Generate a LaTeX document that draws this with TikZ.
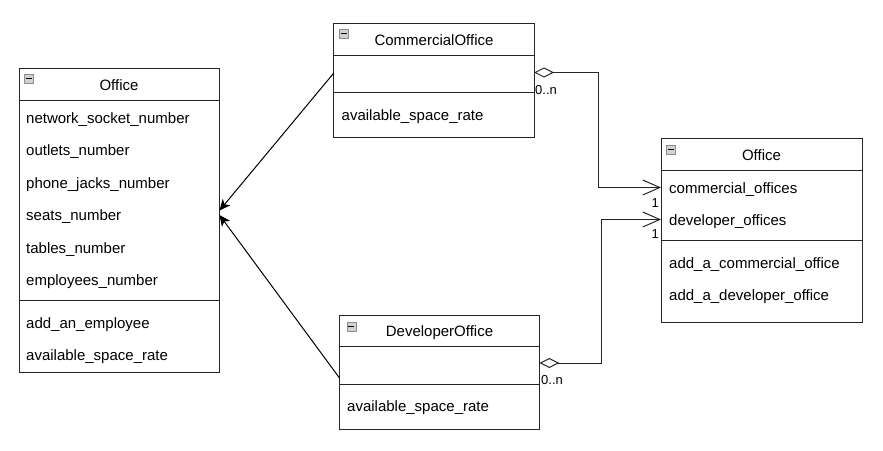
\documentclass[tikz,border=0pt]{standalone}
\usepackage{fontspec}
\setmainfont{Liberation Sans}
\usetikzlibrary{arrows.meta}
\begin{document}
\begin{tikzpicture}[x=1pt,y=-1pt,
  box/.style={draw=black!85, line width=1pt, anchor=north west, inner sep=0pt},
  sep/.style={draw=black!85, line width=1pt},
  txt/.style={font=\fontsize{15}{17}\selectfont, anchor=base west, inner sep=0pt},
  ttl/.style={font=\fontsize{15}{17}\selectfont, anchor=base, inner sep=0pt},
  mult/.style={font=\fontsize{13}{15}\selectfont, anchor=base west, inner sep=0pt},
  inh/.style={draw=black, line width=1pt, -{Stealth[length=11pt,width=10pt,inset=3pt]}},
  agg/.style={draw=black!85, line width=1pt, {Diamond[open,length=20pt,width=10pt]}-{Straight Barb[length=17pt,width=15pt]}},
  icon/.style={draw=black!45, fill=black!18, minimum size=9pt, inner sep=0pt,
    path picture={\draw[black,line width=1.3pt] ([xshift=1.5pt]path picture bounding box.west) -- ([xshift=-1.5pt]path picture bounding box.east);}}
]
\useasboundingbox (0,0) rectangle (883,450);
\fill[white] (0,0) rectangle (883,450);

% ---- Left Office ----
\node[box, minimum width=200.5pt, minimum height=303.5pt] (office) at (18.5,68.3) {};
\draw[sep] (18.5,100.7) -- (219,100.7);
\draw[sep] (18.5,300.7) -- (219,300.7);
\node[icon] (officeIcon) at (28.5,78.5) {};
\node[ttl] (officeTitle) at (119,90) {Office};
\node[txt] (oa1) at (26,123) {network\_socket\_number};
\node[txt] (oa2) at (26,155.5) {outlets\_number};
\node[txt] (oa3) at (26,188) {phone\_jacks\_number};
\node[txt] (oa4) at (26,220.5) {seats\_number};
\node[txt] (oa5) at (26,253) {tables\_number};
\node[txt] (oa6) at (26,285.5) {employees\_number};
\node[txt] (om1) at (26,328) {add\_an\_employee};
\node[txt] (om2) at (26,360) {available\_space\_rate};

% ---- CommercialOffice ----
\node[box, minimum width=200.7pt, minimum height=114pt] (coff) at (333.3,23.3) {};
\draw[sep] (333.3,55.7) -- (534,55.7);
\draw[sep] (333.3,92.7) -- (534,92.7);
\node[icon] (coffIcon) at (343.7,33.8) {};
\node[ttl] (coffTitle) at (434,45) {CommercialOffice};
\node[txt] (cm1) at (341.5,120.5) {available\_space\_rate};

% ---- DeveloperOffice ----
\node[box, minimum width=200.3pt, minimum height=114pt] (doff) at (339,315) {};
\draw[sep] (339,346.7) -- (539.3,346.7);
\draw[sep] (339,384.3) -- (539.3,384.3);
\node[icon] (doffIcon) at (351.2,326.2) {};
\node[ttl] (doffTitle) at (439.5,336) {DeveloperOffice};
\node[txt] (dm1) at (347,411.5) {available\_space\_rate};

% ---- Right Office ----
\node[box, minimum width=200.7pt, minimum height=183.7pt] (roff) at (661,138) {};
\draw[sep] (661,170.7) -- (861.7,170.7);
\draw[sep] (661,240) -- (861.7,240);
\node[icon] (roffIcon) at (670.8,149.5) {};
\node[ttl] (roffTitle) at (761.5,160) {Office};
\node[txt] (ra1) at (669,193) {commercial\_offices};
\node[txt] (ra2) at (669,225) {developer\_offices};
\node[txt] (rm1) at (669,268) {add\_a\_commercial\_office};
\node[txt] (rm2) at (669,300) {add\_a\_developer\_office};

% ---- connectors ----
\coordinate (cInhStart) at (333.8,73);
\coordinate (dInhStart) at (339.5,378);
\coordinate (oTip1) at (219.5,210.5);
\coordinate (oTip2) at (219.5,215);
\draw[inh] (cInhStart) -- (oTip1);
\draw[inh] (dInhStart) -- (oTip2);

\coordinate (cAgg) at (534,72.5);
\coordinate (dAgg) at (539.3,363);
\coordinate (rIn1) at (661,187.5);
\coordinate (rIn2) at (661,219.5);
\draw[agg] (cAgg) -- (598,72.5) |- (rIn1);
\draw[agg] (dAgg) -- (601,363) |- (rIn2);

\node[mult] (cMult) at (535,94) {0..n};
\node[mult] (dMult) at (541,384.5) {0..n};
\node[mult] (rMult1) at (651.5,207) {1};
\node[mult] (rMult2) at (651.5,238) {1};
\end{tikzpicture}
\end{document}
